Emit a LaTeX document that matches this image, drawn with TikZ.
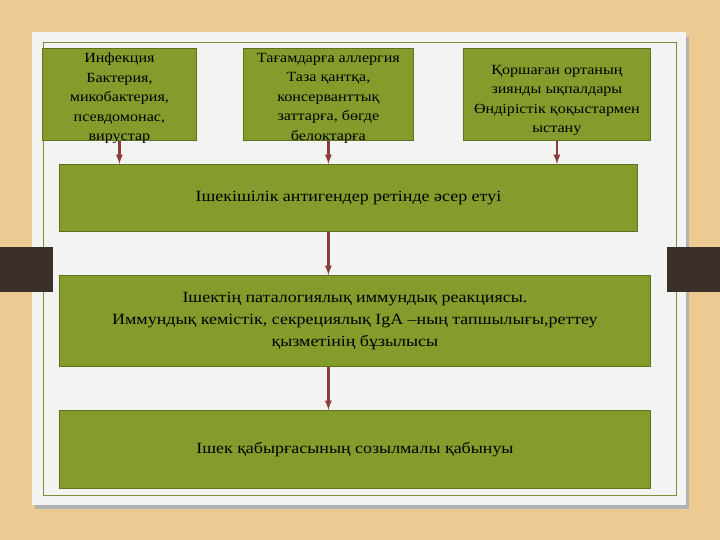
\documentclass[tikz,border=0pt]{standalone}
\usepackage{fontspec}
\setmainfont[FakeStretch=1.15]{Liberation Serif}
\usetikzlibrary{arrows,calc,positioning}
\definecolor{tanbg}{HTML}{EDCA92}
\definecolor{cardwhite}{HTML}{F3F3F1}
\definecolor{olivebox}{HTML}{849C2B}
\definecolor{olivedark}{HTML}{5E7220}
\definecolor{olivethin}{HTML}{7E8F3C}
\definecolor{arrowred}{HTML}{8E3B3B}
\definecolor{tabbrown}{HTML}{3A3029}
\tikzset{
  causebox/.style={draw=olivedark,fill=olivebox,line width=0.8pt,inner sep=0pt,
    anchor=north west,minimum height=92pt},
  causetext/.style={inner sep=0pt,align=center,font=\fontsize{14}{19.5}\selectfont},
  stagebox/.style={draw=olivedark,fill=olivebox,line width=0.8pt,inner sep=0pt,
    anchor=north west,align=center,font=\fontsize{15.6}{22}\selectfont},
  flow/.style={draw=arrowred,line width=2.2pt,-latex}
}
\begin{document}
\begin{tikzpicture}[x=1pt,y=-1pt]
\useasboundingbox (0,0) rectangle (720,540);
%background and card
\fill[tanbg] (0,0) rectangle (720,540);
\fill[black!30] (35,37) rectangle (689,509);
\fill[cardwhite] (32,32) rectangle (686,505);
\draw[olivethin,line width=0.8pt] (43,42) rectangle (676,495);
%tabs
\fill[tabbrown] (0,247) rectangle (53,292);
\fill[tabbrown] (667,247) rectangle (720,292);
%causes
\node[causebox,minimum width=154pt] (INFECT) at (42,48) {};
\node[causebox,minimum width=170pt] (ALLERGY) at (243,48) {};
\node[causebox,minimum width=187pt] (ENVIRON) at (463,48) {};
\node[causetext] (INFECTTXT) at ($(INFECT.center)+(0,4)$)
  {Инфекция\\ Бактерия,\\ микобактерия,\\ псевдомонас,\\ вирустар};
\node[causetext] (ALLERGYTXT) at ($(ALLERGY.center)+(0,4)$)
  {Тағамдарға аллергия\\ Таза қантқа,\\ консерванттық\\ заттарға, бөгде\\ белоктарға};
\node[causetext] (ENVIRONTXT) at ($(ENVIRON.center)+(0,6)$)
  {Қоршаған ортаның\\ зиянды ықпалдары\\ Өндірістік қоқыстармен\\ ыстану};
%stages
\node[stagebox,minimum width=578pt,minimum height=67pt] (ANTIGEN) at (59,164)
  {Ішекішілік антигендер ретінде әсер етуі};
\node[stagebox,minimum width=591pt,minimum height=91pt] (IMMUNE) at (59,275)
  {Ішектің паталогиялық иммундық реакциясы.\\ Иммундық кемістік, секрециялық IgA –ның тапшылығы,реттеу\\ қызметінің бұзылысы};
\node[stagebox,minimum width=591pt,minimum height=78pt] (INFLAM) at (59,410)
  {Ішек қабырғасының созылмалы қабынуы};
%arrows
\draw[flow] (INFECT.south) -- (INFECT.south |- ANTIGEN.north);
\draw[flow] (ALLERGY.south) -- (ALLERGY.south |- ANTIGEN.north);
\draw[flow] (ENVIRON.south) -- (ENVIRON.south |- ANTIGEN.north);
\draw[flow] (ALLERGY.south |- ANTIGEN.south) -- (ALLERGY.south |- IMMUNE.north);
\draw[flow] (ALLERGY.south |- IMMUNE.south) -- (ALLERGY.south |- INFLAM.north);
\end{tikzpicture}
\end{document}
